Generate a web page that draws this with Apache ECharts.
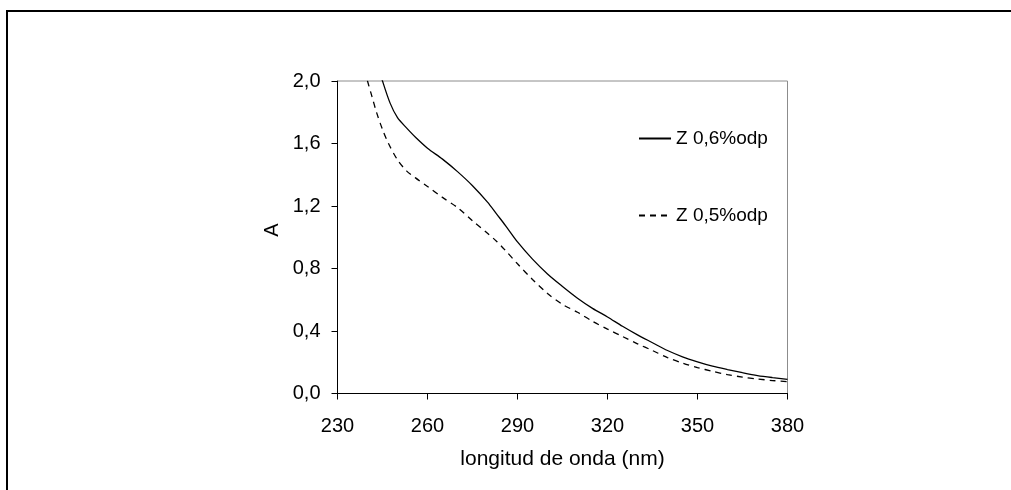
<!DOCTYPE html>
<html>
<head>
<meta charset="utf-8">
<script src="https://cdn.jsdelivr.net/npm/echarts@6/dist/echarts.min.js"></script>
<style>
html,body{margin:0;padding:0;background:#fff;}
#chart{width:1011px;height:490px;}
</style>
</head>
<body>
<div id="chart"></div>
<script>
// Data
const wavelengthsA = [244,245,247.5,250,253,256,260,265,270,275,280,283,286,290,295,300,305,310,315,320,325,330,335,340,345,350,355,360,365,370,375,380];
const seriesA = [2.07,2.0,1.86,1.765,1.70,1.64,1.57,1.50,1.42,1.33,1.225,1.15,1.075,0.97,0.86,0.765,0.685,0.61,0.545,0.49,0.43,0.375,0.325,0.275,0.235,0.203,0.175,0.153,0.133,0.115,0.102,0.091];
const wavelengthsB = [239,240,241.5,243,245,247,250,253,256,260,265,270,275,280,283,286,290,295,300,305,310,315,320,325,330,335,340,345,350,355,360,365,370,375,380];
const seriesB = [2.07,2.0,1.9,1.80,1.69,1.60,1.495,1.425,1.38,1.325,1.255,1.19,1.105,1.025,0.975,0.915,0.83,0.73,0.64,0.57,0.52,0.462,0.412,0.365,0.318,0.275,0.23,0.195,0.166,0.142,0.121,0.105,0.093,0.083,0.076];
const seriesNames = ['Z 0,6%odp','Z 0,5%odp'];
const xTitle = 'longitud de onda (nm)';
const yTitle = 'A';

const FONT = '"Liberation Sans", Arial, sans-serif';
const chart = echarts.init(document.getElementById('chart'), null, {renderer:'canvas'});
const pairs = (xs, ys) => xs.map((x,i)=>[x, ys[i]]);

chart.setOption({
  animation:false,
  backgroundColor:'#fff',
  textStyle:{fontFamily:FONT, color:'#000'},
  grid:{left:337.5, right:223.5, top:81, bottom:96.5, show:true, borderColor:'#8c8c8c', borderWidth:1, backgroundColor:'#fff'},
  legend:{
    orient:'vertical', left:638, top:129, padding:0, itemWidth:32, itemHeight:14, itemGap:58,
    icon:'inherit',
    itemStyle:{opacity:0},
    textStyle:{fontFamily:FONT, fontSize:19, color:'#000'},
    data:seriesNames
  },
  xAxis:{
    type:'value', min:230, max:380, interval:30,
    name:xTitle, nameLocation:'middle', nameGap:55,
    nameTextStyle:{fontFamily:FONT, fontSize:21, color:'#000'},
    axisLine:{show:true, lineStyle:{color:'#000', width:1}},
    axisTick:{show:true, length:6, lineStyle:{color:'#000'}},
    axisLabel:{fontFamily:FONT, fontSize:20, color:'#000', margin:23},
    splitLine:{show:false}
  },
  yAxis:{
    type:'value', min:0, max:2, interval:0.4,
    axisLine:{show:true, lineStyle:{color:'#000', width:1}},
    axisTick:{show:true, length:6, lineStyle:{color:'#000'}},
    axisLabel:{fontFamily:FONT, fontSize:20, color:'#000', margin:17,
      formatter:v=>v.toFixed(1).replace('.',',')},
    splitLine:{show:false}
  },
  graphic:[
    {type:'line', shape:{x1:6, y1:11, x2:1011, y2:11}, style:{stroke:'#000', lineWidth:2}, silent:true},
    {type:'line', shape:{x1:7, y1:10, x2:7, y2:490}, style:{stroke:'#000', lineWidth:2}, silent:true},
    {type:'text', x:272.5, y:230, rotation:Math.PI/2,
      style:{text:yTitle, font:'20px '+FONT, fill:'#000', align:'center', verticalAlign:'middle'}, silent:true}
  ],
  series:[
    {name:seriesNames[0], type:'line', data:pairs(wavelengthsA, seriesA), smooth:0.3, symbol:'none', clip:true,
      lineStyle:{color:'#000', width:1.3, type:'solid'}, itemStyle:{color:'#000'}},
    {name:seriesNames[1], type:'line', data:pairs(wavelengthsB, seriesB), smooth:0.3, symbol:'none', clip:true,
      lineStyle:{color:'#000', width:1.3, type:[6,5]}, itemStyle:{color:'#000'}}
  ]
});
</script>
</body>
</html>
